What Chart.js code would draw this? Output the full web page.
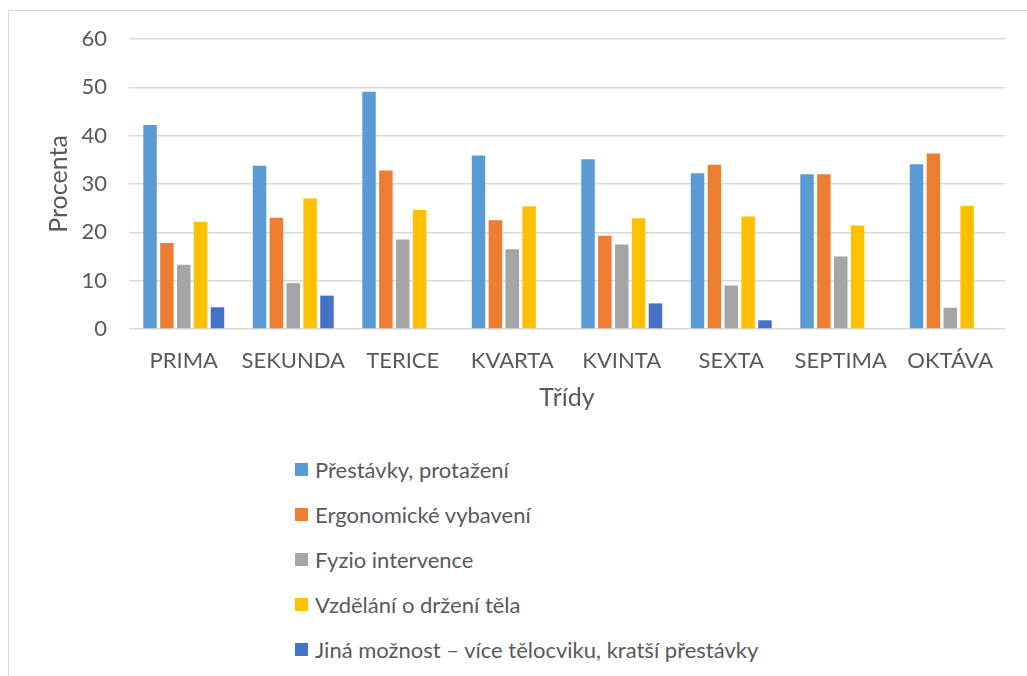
<!DOCTYPE html>
<html>
<head>
<meta charset="utf-8">
<script src="https://cdn.jsdelivr.net/npm/chart.js@4.4.1/dist/chart.umd.min.js"></script>
<style>
  body { margin: 0; background: #fff; font-family: Lato, "Open Sans", sans-serif; }
  #frame { position: absolute; left: 8px; top: 10px; width: 1100px; height: 800px; border: 1px solid #d9d9d9; }
  #wrap { position: absolute; left: 0; top: 0; width: 1027px; height: 420px; }
  #legend { position: absolute; left: 295px; top: 447px; margin: 0; padding: 0; list-style: none; }
  #legend li { height: 45px; display: flex; align-items: center; font-size: 22px; color: #595959; }
  #legend span.box { width: 13px; height: 13px; margin-right: 7px; display: inline-block; }
</style>
</head>
<body>
<div id="frame"></div>
<div id="wrap"><canvas id="graf"></canvas></div>
<ul id="legend"></ul>
<script>
const tridy = ['PRIMA', 'SEKUNDA', 'TERICE', 'KVARTA', 'KVINTA', 'SEXTA', 'SEPTIMA', 'OKTÁVA'];
const prestavky = [42.2, 33.8, 49.1, 35.9, 35.1, 32.2, 32.0, 34.1];
const ergonomie = [17.8, 23.0, 32.8, 22.5, 19.3, 34.0, 32.0, 36.3];
const fyzio = [13.3, 9.5, 18.5, 16.5, 17.5, 9.0, 15.0, 4.4];
const vzdelani = [22.2, 27.0, 24.6, 25.4, 22.9, 23.3, 21.4, 25.5];
const jina = [4.5, 6.9, 0, 0, 5.3, 1.8, 0, 0];

const htmlLegend = {
  id: 'htmlLegend',
  afterUpdate(chart) {
    const ul = document.getElementById('legend');
    ul.innerHTML = '';
    chart.options.plugins.legend.labels.generateLabels(chart).forEach(item => {
      const li = document.createElement('li');
      const box = document.createElement('span');
      box.className = 'box';
      box.style.background = item.fillStyle;
      li.appendChild(box);
      li.appendChild(document.createTextNode(item.text));
      ul.appendChild(li);
    });
  }
};

const ctx = document.getElementById('graf');
new Chart(ctx, {
  type: 'bar',
  data: {
    labels: tridy,
    datasets: [
      {label: 'Přestávky, protažení', data: prestavky, backgroundColor: '#5B9BD5'},
      {label: 'Ergonomické vybavení', data: ergonomie, backgroundColor: '#ED7D31'},
      {label: 'Fyzio intervence', data: fyzio, backgroundColor: '#A5A5A5'},
      {label: 'Vzdělání o držení těla', data: vzdelani, backgroundColor: '#FFC000'},
      {label: 'Jiná možnost – více tělocviku, kratší přestávky', data: jina, backgroundColor: '#4472C4'}
    ]
  },
  options: {
    responsive: true,
    maintainAspectRatio: false,
    animation: false,
    categoryPercentage: 0.77,
    barPercentage: 0.8,
    layout: {padding: {top: 39, right: 22, left: 0, bottom: 0}},
    scales: {
      x: {
        grid: {display: false},
        border: {display: false},
        ticks: {color: '#595959', font: {size: 22, family: 'Lato'}, padding: 11, maxRotation: 0},
        title: {display: true, text: 'Třídy', color: '#595959', font: {size: 25, family: 'Lato'}, padding: {top: 4, bottom: 7}},
        afterFit(s) { s.height = 91; }
      },
      y: {
        min: 0, max: 60,
        ticks: {stepSize: 10, color: '#595959', font: {size: 22, family: 'Lato'}, padding: 22},
        grid: {color: '#d9d9d9', lineWidth: 1.5, drawTicks: false},
        border: {display: false},
        title: {display: true, text: 'Procenta', color: '#595959', font: {size: 25, family: 'Lato'}, padding: {top: 44, bottom: 0}},
        afterFit(s) { s.width = 129; }
      }
    },
    plugins: {legend: {display: false}, tooltip: {enabled: false}}
  },
  plugins: [htmlLegend]
});
</script>
</body>
</html>
